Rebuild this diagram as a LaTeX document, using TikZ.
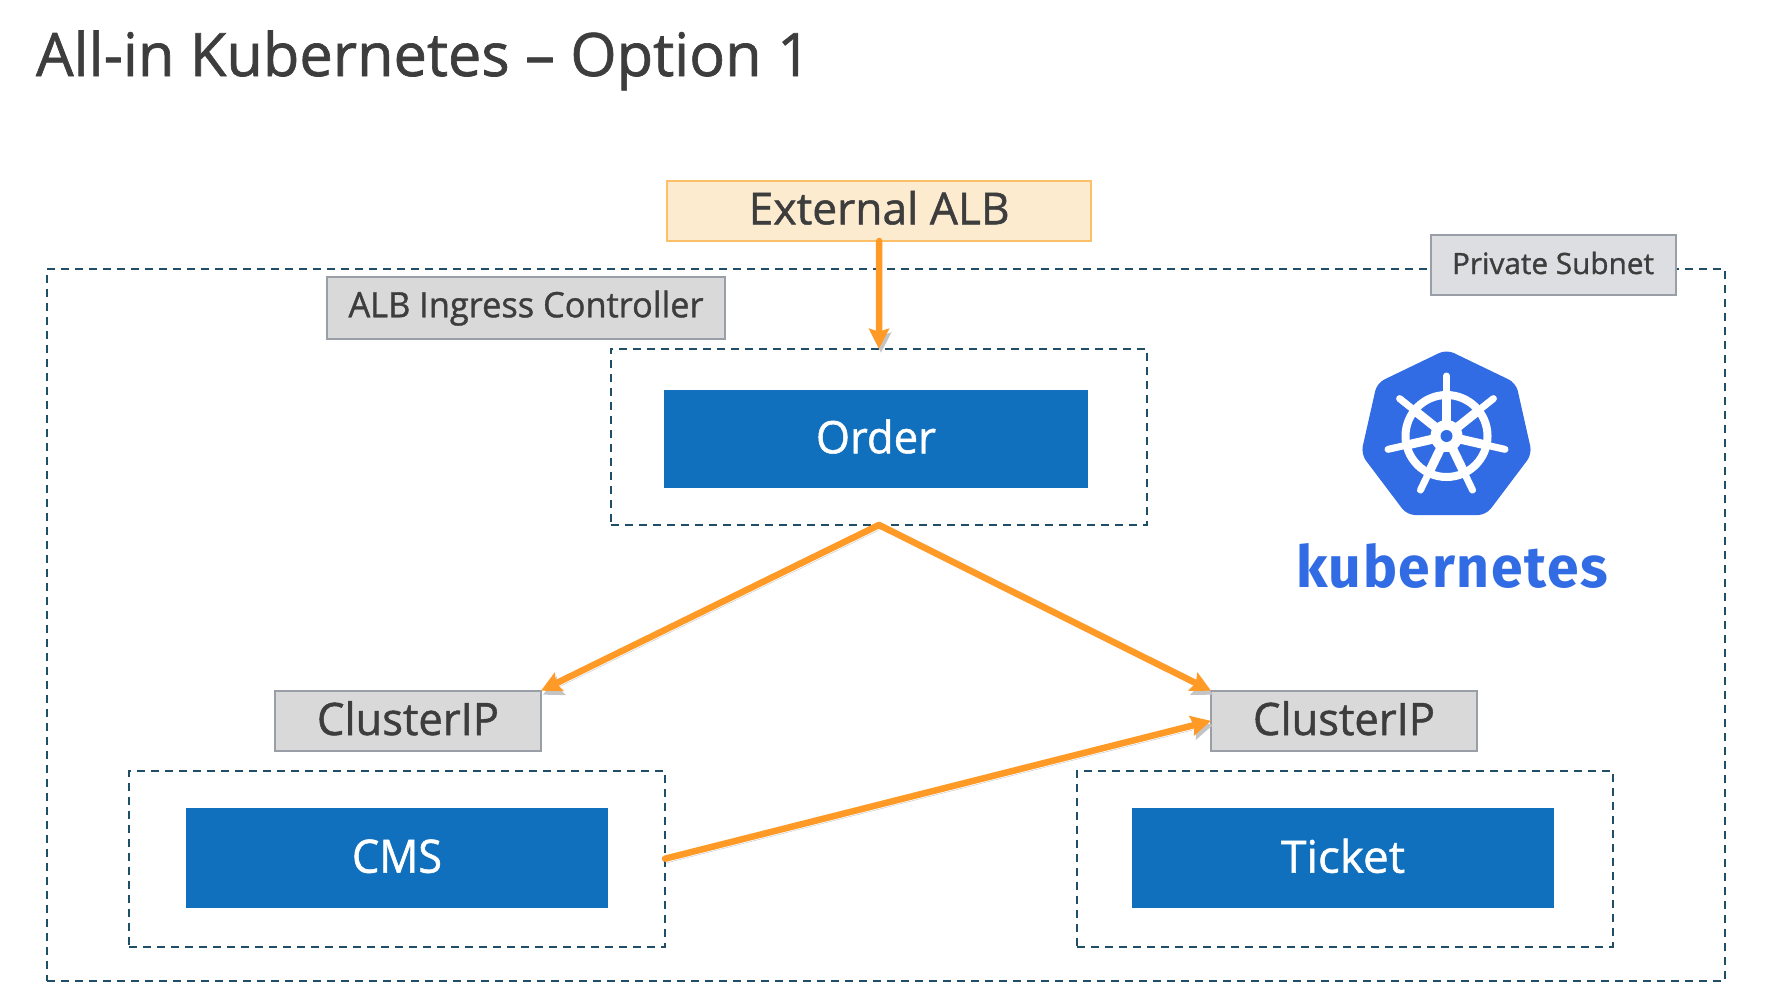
\documentclass[tikz,border=0pt]{standalone}
\usepackage{fontspec}
\usepackage{graphicx}
\setmainfont[RawFeature={embolden=1.1}]{Open Sans}
\newfontfamily\kubefont[LetterSpace=3]{Fira Sans}
\usetikzlibrary{arrows.meta}
\definecolor{inktext}{HTML}{3D3D3D}
\definecolor{graybox}{HTML}{D9D9D9}
\definecolor{grayedge}{HTML}{9A9EA6}
\definecolor{subnetbox}{HTML}{DDDEE1}
\definecolor{albfill}{HTML}{FDEBD0}
\definecolor{albedge}{HTML}{FDC069}
\definecolor{svcblue}{HTML}{1170BD}
\definecolor{flow}{HTML}{FF9A26}
\definecolor{zoneedge}{HTML}{1F4E66}
\definecolor{kubeblue}{HTML}{326CE5}
\definecolor{flowshade}{HTML}{C4C4C4}
\newcommand{\fitlabel}[3]{\resizebox{#1pt}{#2pt}{\fontsize{40}{48}\selectfont #3}}
\tikzset{
  every node/.style={inner sep=0pt,outer sep=0pt,text=inktext,align=center},
  zone/.style={draw=zoneedge,line width=2pt,dash pattern=on 8pt off 6pt},
  tagbox/.style={rectangle,draw=grayedge,fill=graybox,line width=2pt,text depth=10pt},
  albbox/.style={rectangle,draw=albedge,fill=albfill,line width=2pt,text depth=10pt},
  svc/.style={rectangle,fill=svcblue,text=white,text depth=10pt},
  flowline/.style={line width=6.5pt,line cap=round,
    -{Stealth[length=20pt,width=20pt,inset=3pt]},
    preaction={draw=flowshade,transform canvas={shift={(2pt,-4pt)}}},
    postaction={draw=flow}},
}
\begin{document}
\begin{tikzpicture}[x=1pt,y=-1pt]
\useasboundingbox[fill=white] (0,0) rectangle (1784,996);
% title
\node[anchor=base west] (title) at (36,76) {\fitlabel{775}{45.5}{All-in Kubernetes – Option 1}};
% zones
\node[zone,minimum width=1678pt,minimum height=712pt] (subnet) at (886,625) {};
\node[zone,minimum width=536pt,minimum height=176.3pt] (orderzone) at (879,436.85) {};
\node[zone,minimum width=536pt,minimum height=176pt] (cmszone) at (397,858.7) {};
\node[zone,minimum width=535.5pt,minimum height=176pt] (ticketzone) at (1344.75,858.7) {};
% labelled boxes
\node[albbox,minimum width=423.6pt,minimum height=60.3pt,text height=36.9pt] (alb) at (879.2,210.85) {\fitlabel{261}{33.5}{External ALB}};
\node[tagbox,minimum width=398pt,minimum height=62.3pt,text height=28.8pt] (ingress) at (526,307.85) {\fitlabel{355}{26.6}{ALB Ingress Controller}};
\node[tagbox,fill=subnetbox,minimum width=245pt,minimum height=60.3pt,text height=28.3pt] (private) at (1553,264.85) {\fitlabel{202}{22.3}{Private Subnet}};
\node[tagbox,minimum width=266pt,minimum height=60.3pt,text height=38.3pt] (clusterl) at (408,720.85) {\fitlabel{182}{34}{ClusterIP}};
\node[tagbox,minimum width=266pt,minimum height=60.3pt,text height=38.3pt] (clusterr) at (1344,720.85) {\fitlabel{182}{34}{ClusterIP}};
\node[svc,minimum width=424pt,minimum height=97.7pt,text height=38.8pt] (order) at (876,438.85) {\fitlabel{120}{34}{Order}};
\node[svc,minimum width=422pt,minimum height=99.7pt,text height=39.7pt] (cms) at (397,857.85) {\fitlabel{90}{33.3}{CMS}};
\node[svc,minimum width=422pt,minimum height=99.7pt,text height=39.7pt] (ticket) at (1343,857.85) {\fitlabel{124}{34}{Ticket}};
% connectors
\path[flowline] (alb.south) -- (orderzone.north);
\path[flowline] (orderzone.south) -- (clusterl.north east);
\path[flowline] (orderzone.south) -- (clusterr.north west);
\path[flowline] (cmszone.east) -- (clusterr.west);
% kubernetes logo
\fill[kubeblue,rounded corners=8pt] (1446.5,349.5) -- (1516,383) -- (1532,454) -- (1486,515) -- (1407,515) -- (1361,454) -- (1377,383) -- cycle;
\begin{scope}[shift={(1446.5,436)}]
  \draw[white,line width=8pt] (0,0) circle (41pt);
  \foreach \k in {0,...,6} {
    \draw[white,line width=9pt] (0,0) -- ({90+\k*360/7}:42pt);
    \draw[white,line width=7pt,line cap=round] (0,0) -- ({90+\k*360/7}:60pt);
  }
  \fill[white] (0,0) circle (16pt);
  \fill[kubeblue] (0,0) circle (6pt);
\end{scope}
\node[anchor=base west,text=kubeblue] (kubeword) at (1296,587) {\resizebox{312pt}{44pt}{\kubefont\bfseries kubernetes}};
\end{tikzpicture}
\end{document}
